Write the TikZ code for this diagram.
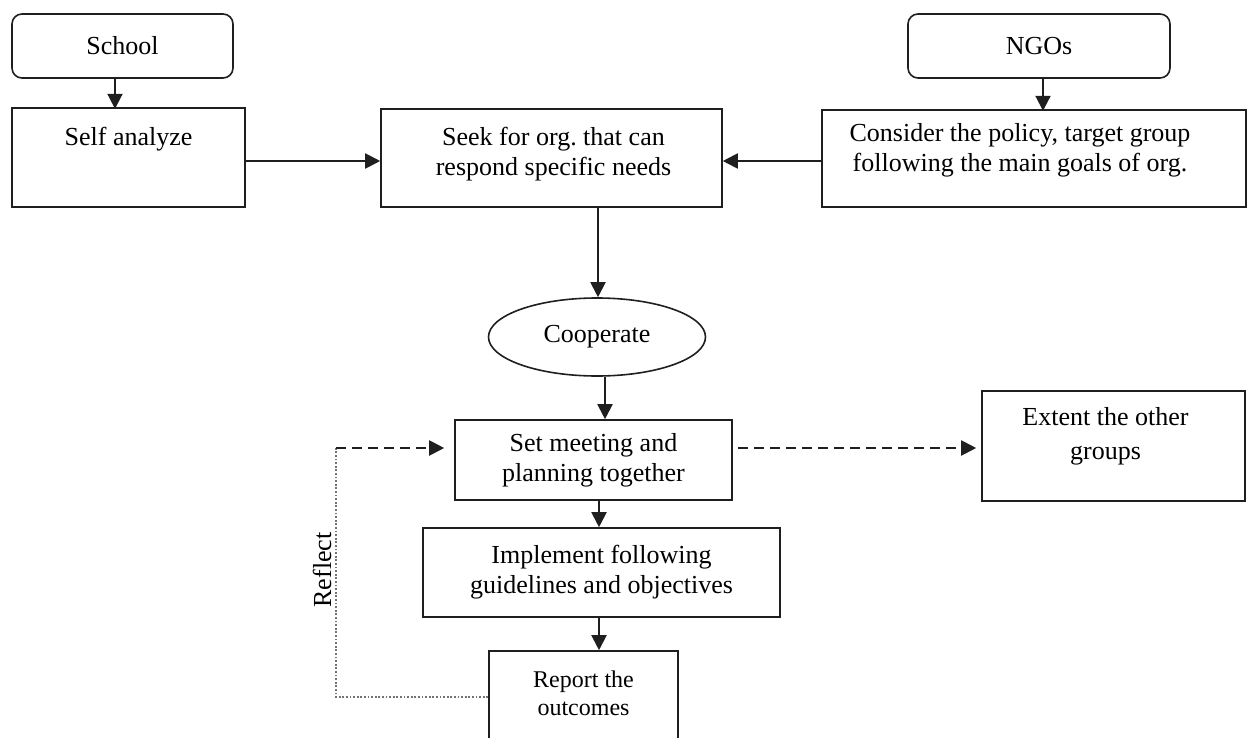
\documentclass[tikz,border=0pt]{standalone}
\usepackage{fontspec}
\setmainfont{Liberation Serif}
\usetikzlibrary{arrows.meta,shapes.geometric,calc}
\frenchspacing

\begin{document}
\begin{tikzpicture}[x=0.5pt,y=-0.5pt,
  txt/.style={font=\fontsize{13}{15}\selectfont, align=center, inner sep=0pt},
  box/.style={txt, draw=black!88, line width=0.8pt, rectangle},
  rbox/.style={box, rounded corners=5pt},
  oval/.style={txt, draw=black!88, line width=0.8pt, ellipse},
  arr/.style={draw=black!88, line width=1pt, -{Triangle[length=7.5pt,width=7.5pt]}},
  dasharr/.style={arr, dash pattern=on 5pt off 3pt},
  dotline/.style={draw=black!55, line width=0.6pt, dash pattern=on 0.9pt off 0.9pt}
]
\useasboundingbox (0,0) rectangle (1247,738);

% top row
\node[rbox, minimum width=110.5pt, minimum height=32pt] (school) at (122.5,46) {School};
\node[rbox, minimum width=131pt, minimum height=32pt] (ngo) at (1039,46) {NGOs};

\node[box, minimum width=116.5pt, minimum height=49.5pt,
      label={[txt, yshift=9pt]center:Self analyze}] (self) at (128.5,157.5) {};
\node[box, minimum width=170.5pt, minimum height=49pt,
      label={[txt, yshift=2pt, xshift=1pt]center:Seek for org. that can\\respond specific needs}] (seek) at (551.5,158) {};
\node[box, minimum width=212pt, minimum height=48.5pt,
      label={[txt, yshift=4pt, xshift=-7pt]center:Consider the policy, target group\\following the main goals of org.}] (consider) at (1034,158.5) {};

% middle column
\node[oval, minimum width=108.5pt, minimum height=39pt] (coop) at (597,337) {Cooperate};
\node[box, minimum width=138.5pt, minimum height=40pt] (meet) at (593.5,460) {Set meeting and\\planning together};
\node[box, minimum width=131.5pt, minimum height=55pt,
      label={[txt, yshift=5pt, xshift=-4pt]center:Extent the other\\[2pt]groups}] (extent) at (1113.5,446) {};
\node[box, minimum width=178.5pt, minimum height=44.5pt] (impl) at (601.5,572.5) {Implement following\\guidelines and objectives};
\node[box, minimum width=94.5pt, minimum height=60pt,
      label={[font=\fontsize{12}{14}\selectfont, align=center, inner sep=0pt, yshift=9pt]center:Report the\\outcomes}] (report) at (583.5,711) {};

\node[txt, rotate=90] (reflect) at (322,570) {Reflect};

% connectors
\draw[arr] ([xshift=-3.75pt]school.south) -- ++(0,30);
\draw[arr] ([xshift=2pt]ngo.south) -- ++(0,32);
\draw[arr] (self.east |- 0,161) -- (seek.west |- 0,161);
\draw[arr] (consider.west |- 0,161) -- (seek.east |- 0,161);
\draw[arr] (598,0 |- seek.south) -- (598,0 |- coop.north);
\draw[arr] (605,0 |- coop.south) -- (605,0 |- meet.north);
\draw[arr] (599,0 |- meet.south) -- (599,0 |- impl.north);
\draw[arr] (599,0 |- impl.south) -- (599,0 |- report.north);
\draw[dasharr, shorten <=2.5pt, shorten >=2.5pt] (meet.east |- 0,448) -- (extent.west |- 0,448);

% reflection loop
\coordinate (loopturn) at (336,448);
\draw[dotline] (report.west |- 0,697) -- (loopturn |- 0,697) -- (loopturn);
\draw[dasharr, shorten >=5pt] (loopturn) -- (meet.west |- loopturn);
\end{tikzpicture}
\end{document}
